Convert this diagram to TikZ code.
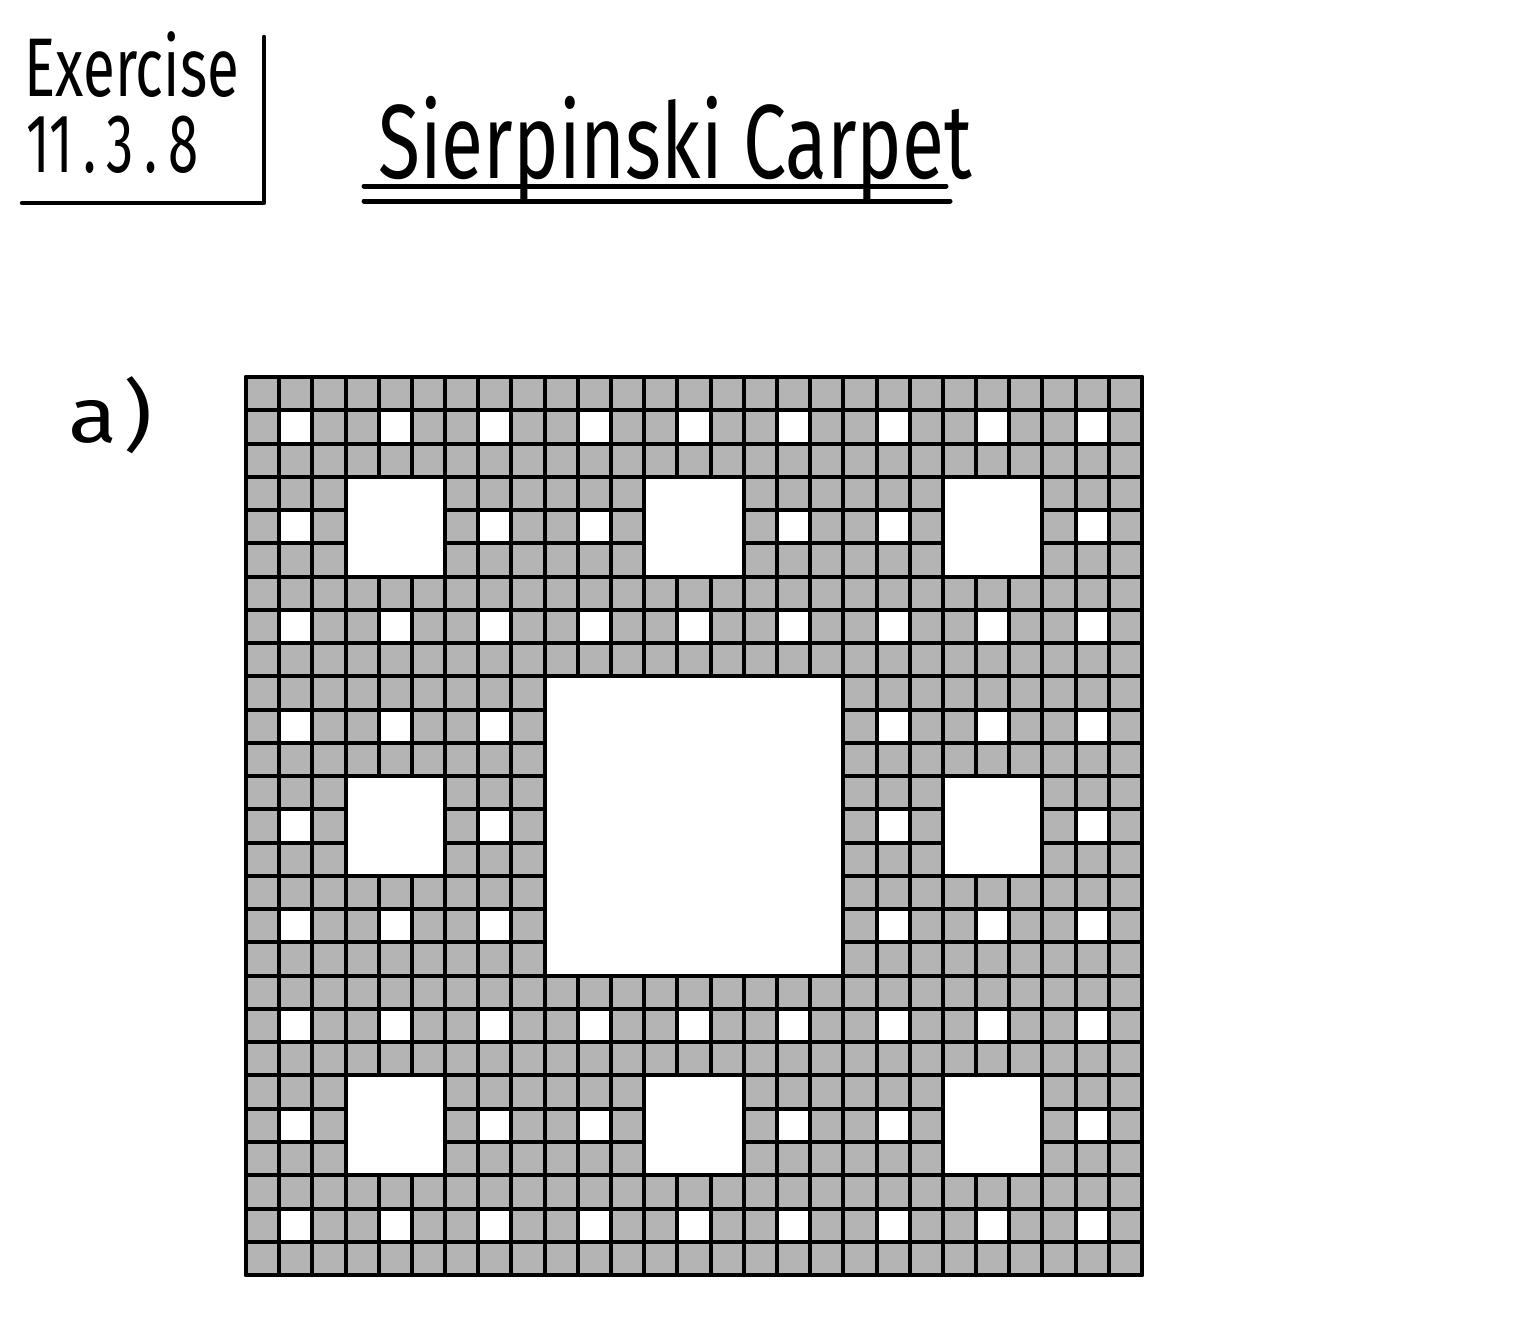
\documentclass[tikz,border=0pt]{standalone}
\usepackage{fontspec}
\setmainfont{Fira Sans}
\definecolor{cellgray}{HTML}{B4B4B4}
\tikzset{
  cell/.style={fill=cellgray, draw=black, line width=2pt},
  pen/.style={draw=black, line width=2.2pt, line cap=round},
  hand/.style={inner sep=0pt, text=black}
}
\begin{document}
\begin{tikzpicture}[x=0.5pt,y=-0.5pt, line join=round]
\useasboundingbox (0,0) rectangle (1536,1318);
% header box
\node[hand, anchor=base west] (ex) at (24,96) {\scalebox{1.12}[1.6]{\fontsize{26}{30}\selectfont Exercise}};
\node[hand, anchor=base west] (num) at (26,172) {\scalebox{1.05}[1.6]{\fontsize{26}{30}\selectfont 11\hspace{5pt}.\hspace{5pt}3\hspace{5pt}.\hspace{5pt}8}};
\coordinate (b1) at (264,37);
\coordinate (b2) at (264,203);
\coordinate (b3) at (22,203);
\draw[pen] (b1) -- (b2) -- (b3);
% title
\node[hand, anchor=base west] (title) at (378,178) {\scalebox{1.13}[1.55]{\fontsize{34}{40}\selectfont Sierpinski Carpet}};
\coordinate (u1a) at (364,186);
\coordinate (u1b) at (946,186);
\coordinate (u2a) at (364,201);
\coordinate (u2b) at (950,201);
\draw[pen, line width=2.5pt] (u1a) -- (u1b);
\draw[pen, line width=2.5pt] (u2a) -- (u2b);
% label a)
\node[hand] (lbl) at (111,415) {\scalebox{1.5}[1.3]{\fontsize{30}{34}\selectfont a\hspace{2pt})}};
% carpet
\foreach \i in {0,...,26}{
  \foreach \j in {0,...,26}{
    \pgfmathtruncatemacro\h{(mod(\i,3)==1)*(mod(\j,3)==1)+(mod(int(\i/3),3)==1)*(mod(int(\j/3),3)==1)+(int(\i/9)==1)*(int(\j/9)==1)}
    \ifnum\h=0
      \draw[cell] ({246+\i*33.185},{377+\j*33.26}) rectangle ++(33.185,33.26);
    \fi
  }
}
\draw[line width=2.4pt] (246,377) rectangle (1142,1275);
\end{tikzpicture}
\end{document}
